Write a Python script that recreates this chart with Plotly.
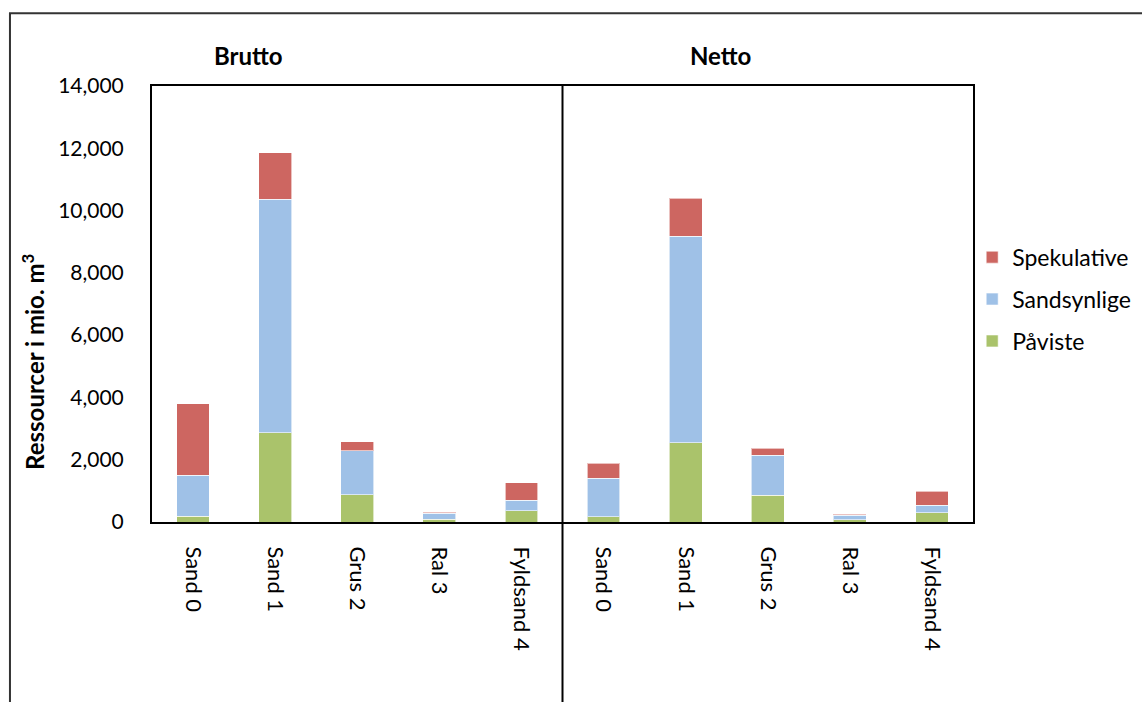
import plotly.graph_objects as go

# Deposit categories, shown once for gross (Brutto) and once for net (Netto)
categories = ["Sand 0", "Sand 1", "Grus 2", "Ral 3", "Fyldsand 4"]
groups = ["Brutto", "Netto"]

# Resources in million m3 per category, gross then net
paaviste = [180, 2870, 870, 90, 360,
            170, 2550, 860, 75, 290]
sandsynlige = [1320, 7490, 1410, 190, 340,
               1230, 6630, 1290, 140, 255]
spekulative = [2290, 1500, 290, 30, 560,
               490, 1220, 220, 30, 450]

y_ticks = [0, 2000, 4000, 6000, 8000, 10000, 12000, 14000]
y_tick_text = ["0", "2,000", "4,000", "6,000", "8,000", "10,000", "12,000", "14,000"]

tick_labels = categories * len(groups)
x_pos = list(range(len(tick_labels)))

FONT = "Lato, Carlito, Calibri, sans-serif"
series = [
    ("Påviste", paaviste, "#AAC36B"),
    ("Sandsynlige", sandsynlige, "#9FC1E7"),
    ("Spekulative", spekulative, "#CD6661"),
]

fig = go.Figure()
for i, (name, vals, color) in enumerate(series):
    fig.add_trace(go.Bar(
        x=x_pos, y=vals, name=name, legendgroup=name,
        legendrank=1000 - i,
        marker=dict(color=color, line=dict(color="rgba(255,255,255,0.6)", width=1)),
        width=0.4,
    ))

fig.update_layout(
    width=1142, height=702,
    margin=dict(l=152, r=169, t=86, b=180, autoexpand=False),
    barmode="stack",
    plot_bgcolor="white", paper_bgcolor="white",
    font=dict(family=FONT, size=21, color="black"),
    showlegend=True,
    legend=dict(
        traceorder="grouped", tracegroupgap=9,
        bgcolor="rgba(0,0,0,0)",
        x=0.999, y=0.511, xanchor="left", yanchor="middle",
        font=dict(size=23), itemwidth=30,
    ),
    xaxis=dict(
        range=[-0.5, len(tick_labels) - 0.5],
        tickvals=x_pos, ticktext=tick_labels, tickangle=90,
        tickfont=dict(size=22),
        showline=True, linecolor="black", linewidth=2, mirror=True,
        showgrid=False, zeroline=False, ticks="",
        ticklabelstandoff=18,
    ),
    yaxis=dict(
        range=[0, 14000], tickvals=y_ticks, ticktext=y_tick_text,
        tickfont=dict(size=21),
        showline=True, linecolor="black", linewidth=2, mirror=True,
        showgrid=False, zeroline=False, ticks="",
        ticklabelstandoff=22,
    ),
)

# Divider between the gross and net halves, running down past the labels
fig.add_shape(type="line", xref="x", yref="paper",
              x0=4.5, x1=4.5, y0=-0.6, y1=1,
              line=dict(color="black", width=2))

# Outer frame of the chart
fig.add_shape(type="rect", xref="paper", yref="paper",
              x0=-0.173, x1=1.5, y0=-1, y1=1.167,
              line=dict(color="#333333", width=2), layer="below")

# Group headings
for label, xp in zip(groups, [0.118, 0.693]):
    fig.add_annotation(text=f"<b>{label}</b>", xref="paper", yref="paper",
                       x=xp, y=1.071, xanchor="center", yanchor="middle",
                       showarrow=False, font=dict(size=24))

# Y axis title
fig.add_annotation(text="<b>Ressourcer i mio. m<sup>3</sup></b>", xref="paper", yref="paper",
                   x=-0.145, y=0.367, xanchor="center", yanchor="middle",
                   textangle=-90, showarrow=False, font=dict(size=24))

fig.write_html("out.html")
